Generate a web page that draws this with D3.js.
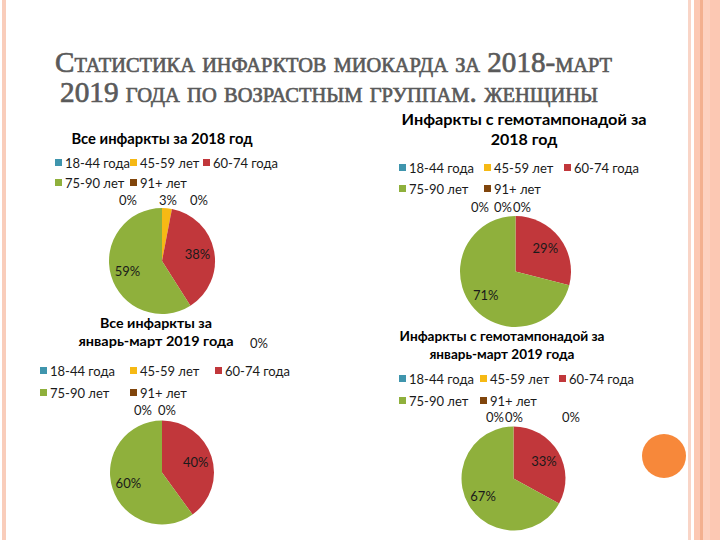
<!DOCTYPE html>
<html>
<head>
<meta charset="utf-8">
<script src="https://cdn.jsdelivr.net/npm/d3@7"></script>
<style>
  html, body { margin: 0; padding: 0; background: #fff; }
  svg { display: block; }
</style>
</head>
<body>
<svg id="chart" width="720" height="540"></svg>
<script>
// ---------- data ----------
const categories = ["18-44 года", "45-59 лет", "60-74 года", "75-90 лет", "91+ лет"];
const colors = ["#3f95ad", "#f6b914", "#c1373b", "#8fb03c", "#80450c"];

const allInfarcts2018 = [0, 3, 38, 59, 0];
const tamponade2018 = [0, 0, 29, 71, 0];
const allInfarcts2019 = [0, 0, 40, 60, 0];
const tamponade2019 = [0, 0, 33, 67, 0];

const mainTitle = ["Статистика инфарктов миокарда за 2018-март", "2019 года по возрастным группам. женщины"];
const title1 = ["Все инфаркты за 2018 год"];
const title2 = ["Инфаркты с гемотампонадой за", "2018 год"];
const title3 = ["Все инфаркты за", "январь-март 2019 года"];
const title4 = ["Инфаркты с гемотампонадой за", "январь-март 2019 года"];

// ---------- layout ----------
const panels = [
  { values: allInfarcts2018, title: title1, cx: 162, cy: 261, r: 53,
    titleX: 162, titleY: [138], titleW: [181], titleSize: 15,
    legY: [163, 183], legX: [55, 130, 203],
    zeroOffsets: { 0: [-34, -61], 1: [6, -61], 4: [37, -61] } },
  { values: tamponade2018, title: title2, cx: 515.5, cy: 271.5, r: 55.5,
    titleX: 524, titleY: [118, 138], titleW: [245, null], titleSize: 16,
    legY: [168, 189], legX: [399, 484, 564],
    zeroOffsets: { 0: [-35.5, -64.5], 1: [-12.5, -64.5], 4: [6.5, -64.5] } },
  { values: allInfarcts2019, title: title3, cx: 162, cy: 472.5, r: 52,
    titleX: 156, titleY: [322, 340], titleW: [112, 155], titleSize: 14,
    legY: [371, 393], legX: [40, 130, 215],
    zeroOffsets: { 0: [-19, -62.5], 1: [5, -62.5], 4: [97, -129.5] } },
  { values: tamponade2019, title: title4, cx: 513.5, cy: 478.5, r: 52,
    titleX: 502, titleY: [335, 353], titleW: [205, 145], titleSize: 14,
    legY: [379, 401], legX: [399, 480, 559],
    zeroOffsets: { 0: [-18.5, -61.5], 1: [0.5, -61.5], 4: [57.5, -61.5] } }
];

const svg = d3.select("#chart");

// ---------- decoration ----------
svg.append("rect").attr("x", 2).attr("y", 0).attr("width", 4).attr("height", 540).attr("fill", "#f9cdbb");
svg.append("rect").attr("x", 688).attr("y", 0).attr("width", 3).attr("height", 540).attr("fill", "#f9d5c7");
svg.append("rect").attr("x", 694).attr("y", 0).attr("width", 26).attr("height", 540).attr("fill", "#fcc8b3");
svg.append("rect").attr("x", 700).attr("y", 0).attr("width", 3).attr("height", 540).attr("fill", "#f3b08f");
svg.append("rect").attr("x", 703).attr("y", 0).attr("width", 7).attr("height", 540).attr("fill", "#fdd1bf");
svg.append("circle").attr("cx", 664).attr("cy", 456).attr("r", 22).attr("fill", "#f7883a");

// ---------- main title ----------
const mt = svg.append("g").attr("fill", "#5a5a5a").attr("stroke", "#5a5a5a").attr("stroke-width", 0.7)
  .style("font-family", "'Liberation Serif', 'DejaVu Serif', serif")
  .style("font-variant", "small-caps")
  .style("font-size", "30px");
mt.append("text").attr("x", 55).attr("y", 72)
  .attr("textLength", 557).attr("lengthAdjust", "spacingAndGlyphs")
  .text(mainTitle[0]);
mt.append("text").attr("x", 60).attr("y", 102)
  .attr("textLength", 538).attr("lengthAdjust", "spacingAndGlyphs")
  .text(mainTitle[1]);

// ---------- pies ----------
const pie = d3.pie().sort(null).value(d => d).startAngle(0).endAngle(2 * Math.PI);
const font = "Lato, 'Open Sans', sans-serif";

panels.forEach(p => {
  const g = svg.append("g");
  const total = d3.sum(p.values);

  // title
  p.title.forEach((line, i) => {
    const t = g.append("text")
      .attr("x", p.titleX).attr("y", p.titleY[i])
      .attr("text-anchor", "middle").attr("dominant-baseline", "central")
      .style("font-family", font).style("font-weight", "bold")
      .style("font-size", p.titleSize + "px").attr("fill", "#000")
      .text(line);
    if (p.titleW[i]) t.attr("textLength", p.titleW[i]).attr("lengthAdjust", "spacingAndGlyphs");
  });

  // legend: 3 items in row 1, 2 in row 2
  categories.forEach((c, i) => {
    const row = i < 3 ? 0 : 1;
    const col = i < 3 ? i : i - 3;
    const x = p.legX[col], y = p.legY[row];
    g.append("rect").attr("x", x).attr("y", y - 4).attr("width", 7).attr("height", 7)
      .attr("fill", colors[i]);
    g.append("text").attr("x", x + 10).attr("y", y)
      .attr("dominant-baseline", "central")
      .style("font-family", font).style("font-size", "13px").attr("fill", "#1a1a1a")
      .text(c);
  });

  // pie
  const arcs = pie(p.values);
  const arc = d3.arc().innerRadius(0).outerRadius(p.r);
  const labelArc = d3.arc().innerRadius(p.r * 0.68).outerRadius(p.r * 0.68);
  const pg = g.append("g").attr("transform", `translate(${p.cx},${p.cy})`);
  pg.selectAll("path").data(arcs).join("path")
    .attr("d", arc)
    .attr("fill", (d, i) => colors[i]);

  pg.selectAll("text.lbl").data(arcs).join("text")
    .attr("class", "lbl")
    .attr("transform", (d, i) => {
      if (d.data > 0 && d.endAngle - d.startAngle > 0.5) {
        const c = labelArc.centroid(d);
        return `translate(${c[0]},${c[1]})`;
      }
      const off = p.zeroOffsets[i] || [0, -p.r - 10];
      return `translate(${off[0]},${off[1]})`;
    })
    .attr("text-anchor", "middle").attr("dominant-baseline", "central")
    .style("font-family", font).style("font-size", "13px").attr("fill", "#1a1a1a")
    .text(d => Math.round(d.data / total * 100) + "%");
});
</script>
</body>
</html>
